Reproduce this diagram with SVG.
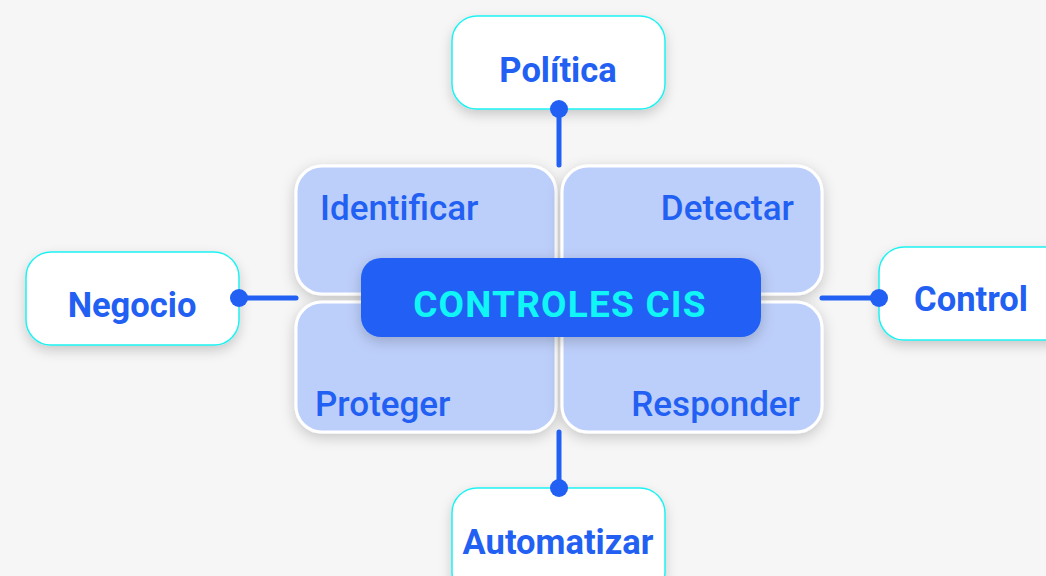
<svg xmlns="http://www.w3.org/2000/svg" width="1046" height="576" viewBox="0 0 1046 576">
<defs>
<filter id="sh" x="-20%" y="-20%" width="140%" height="150%">
<feDropShadow dx="0" dy="5" stdDeviation="6" flood-color="#000" flood-opacity="0.18"/>
</filter>
<filter id="sh2" x="-20%" y="-20%" width="140%" height="150%">
<feDropShadow dx="0" dy="4" stdDeviation="7" flood-color="#000" flood-opacity="0.2"/>
</filter>
</defs>
<style>
.outer{fill:#ffffff;stroke:#1ef2f2;stroke-width:1.5;filter:url(#sh)}
.quad{fill:#bccefa;stroke:#ffffff;stroke-width:3;filter:url(#sh2)}
.ot{font-family:Roboto,"Liberation Sans",sans-serif;font-weight:700;font-size:34.5px;fill:#2160f2;text-anchor:middle}
.qt{font-family:Roboto,"Liberation Sans",sans-serif;font-weight:500;font-size:35px;fill:#2160f2}
.ct{font-family:Roboto,"Liberation Sans",sans-serif;font-weight:700;font-size:37px;fill:#10f5f5;text-anchor:middle;letter-spacing:1.2px}
.ln{stroke:#2160f2;stroke-width:5;stroke-linecap:round;fill:none}
.dot{fill:#2160f2}
</style>
<rect width="1046" height="576" fill="#f6f6f6"/>
<g id="identificar"><rect class="quad" x="296" y="166" width="260" height="128" rx="26"/><text class="qt" x="320" y="220">Identificar</text></g>
<g id="detectar"><rect class="quad" x="562" y="166" width="260" height="128" rx="26"/><text class="qt" x="794" y="220" text-anchor="end">Detectar</text></g>
<g id="proteger"><rect class="quad" x="296" y="302" width="260" height="130" rx="26"/><text class="qt" x="315" y="416">Proteger</text></g>
<g id="responder"><rect class="quad" x="562" y="302" width="260" height="130" rx="26"/><text class="qt" x="800" y="416" text-anchor="end">Responder</text></g>
<g id="center"><rect x="361" y="258" width="400" height="79" rx="20" fill="#2160f5" filter="url(#sh2)"/><text class="ct" x="560" y="317">CONTROLES CIS</text></g>
<g id="politica"><rect class="outer" x="452" y="16" width="213" height="93" rx="25"/><text class="ot" x="558" y="82">Política</text></g>
<g id="negocio"><rect class="outer" x="26" y="252" width="213" height="93" rx="25"/><text class="ot" x="132" y="317">Negocio</text></g>
<g id="control"><rect class="outer" x="879" y="247" width="213" height="93" rx="25"/><text class="ot" x="971" y="311">Control</text></g>
<g id="automatizar"><rect class="outer" x="452" y="488" width="213" height="110" rx="25"/><text class="ot" x="558" y="554">Automatizar</text></g>
<g id="connectors">
<line class="ln" x1="559" y1="109" x2="559" y2="165"/><circle class="dot" cx="559" cy="109" r="9"/>
<line class="ln" x1="559" y1="432" x2="559" y2="488"/><circle class="dot" cx="559" cy="488" r="9"/>
<line class="ln" x1="239" y1="298" x2="296" y2="298"/><circle class="dot" cx="239" cy="298" r="9"/>
<line class="ln" x1="822" y1="298" x2="879" y2="298"/><circle class="dot" cx="879" cy="298" r="9"/>
</g>
</svg>
